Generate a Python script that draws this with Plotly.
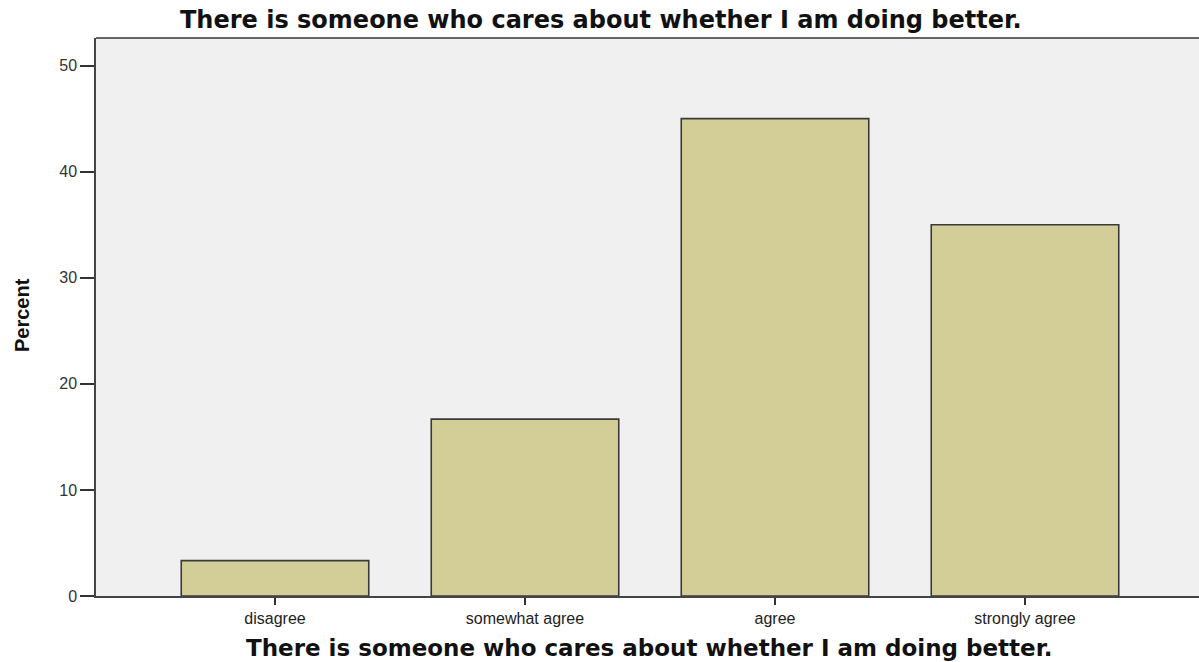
import plotly.graph_objects as go

categories = ["disagree", "somewhat agree", "agree", "strongly agree"]
percent = [3.33, 16.67, 45.0, 35.0]
y_ticks = [0, 10, 20, 30, 40, 50]
title_text = "There is someone who cares about whether I am doing better."

W, H = 1199, 662
L, R, T, B = 96, 0, 38, 66
plot_h = H - T - B

fig = go.Figure()
fig.add_trace(go.Bar(
    x=list(range(len(categories))),
    y=percent,
    width=0.75,
    marker=dict(color="#D3CE98", line=dict(color="#3a3a3a", width=1.6)),
    hoverinfo="skip",
))

fig.update_layout(
    width=W, height=H,
    margin=dict(l=L, r=R, t=T, b=B, pad=0),
    paper_bgcolor="white",
    plot_bgcolor="#F0F0F0",
    showlegend=False,
    xaxis=dict(
        range=[-0.716, 3.696],
        tickmode="array",
        tickvals=list(range(len(categories))),
        ticktext=categories,
        ticks="outside", ticklen=7, tickwidth=1.5, tickcolor="#333",
        showline=True, linecolor="#444", linewidth=1.5, mirror=False,
        showgrid=False, zeroline=False,
        tickfont=dict(family="Liberation Sans, Arial", size=16, color="#222"),
    ),
    yaxis=dict(
        range=[0, 52.6],
        tickmode="array",
        tickvals=y_ticks,
        ticks="outside", ticklen=14, tickwidth=1.5, tickcolor="#333",
        showline=True, linecolor="#444", linewidth=1.5, mirror=False,
        showgrid=False, zeroline=False,
        tickfont=dict(family="Liberation Sans, Arial", size=16, color="#333"),
    ),
    shapes=[
        dict(type="line", xref="paper", yref="paper", x0=0, x1=1, y0=1, y1=1,
             line=dict(color="#666", width=2)),
    ],
    annotations=[
        dict(text="<b>" + title_text + "</b>", xref="paper", yref="paper",
             x=(601 - L) / (W - L - R), y=1 + (T - 20) / plot_h,
             xanchor="center", yanchor="middle", showarrow=False,
             font=dict(family="DejaVu Sans, Verdana", size=24, color="#111")),
        dict(text="<b>" + title_text + "</b>", xref="paper", yref="paper",
             x=(649 - L) / (W - L - R), y=-(648 - (H - B)) / plot_h,
             xanchor="center", yanchor="middle", showarrow=False,
             font=dict(family="DejaVu Sans, Verdana", size=23, color="#111")),
        dict(text="<b>Percent</b>", xref="paper", yref="paper",
             x=-(L - 22) / (W - L - R), y=(H - B - 315) / plot_h,
             xanchor="center", yanchor="middle", showarrow=False, textangle=-90,
             font=dict(family="Liberation Sans, Arial", size=20, color="#111")),
    ],
)

fig.write_html(
    "out.html",
    config={"displayModeBar": False},
    post_script="document.body.style.margin='0';document.body.style.overflow='hidden';",
)
